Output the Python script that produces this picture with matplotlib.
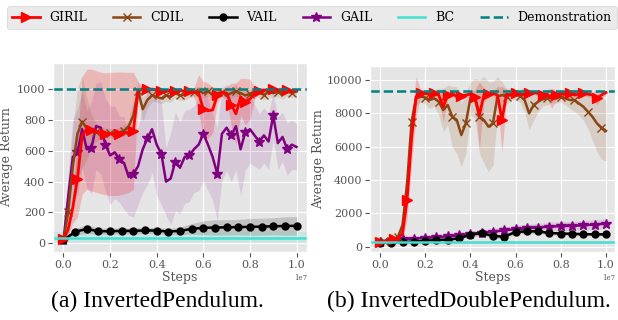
import numpy as np
import matplotlib
matplotlib.use('Agg')
import matplotlib.pyplot as plt

plt.style.use('ggplot')
plt.rcParams['font.family'] = 'DejaVu Serif'

# ---- data: InvertedPendulum ----
steps = np.linspace(0, 1e7, 51)
steps_coarse = np.linspace(0, 1e7, 21)

pend_giril = [25, 90, 230, 420, 700, 740, 735, 725, 715, 710, 710, 710, 712, 715, 720, 730,
              990, 1000, 998, 1000, 995, 990, 985, 995, 990, 995, 985, 990, 980, 975,
              870, 860, 865, 960, 980, 975, 900, 840, 950, 920, 935, 975, 990, 995, 990,
              1000, 995, 990, 995, 985, 990]
pend_giril_std = [5, 40, 100, 250, 380, 390, 395, 395, 395, 395, 400, 400, 400, 395, 390, 380,
                  60, 15, 10, 10, 10, 12, 15, 10, 12, 10, 15, 12, 30, 120,
                  180, 180, 150, 50, 20, 40, 140, 200, 120, 150, 130, 40, 15, 10, 10,
                  5, 10, 10, 10, 12, 10]
pend_cdil = [20, 200, 500, 710, 790, 745, 730, 720, 720, 715, 715, 715, 720, 730, 760, 830,
             990, 870, 930, 960, 950, 940, 960, 950, 975, 960, 965, 975, 980, 990,
             975, 985, 965, 975, 980, 960, 975, 985, 975, 960, 970, 985, 975, 965, 980,
             975, 980, 970, 985, 975, 985]
pend_cdil_std = [5, 150, 250, 300, 300, 200, 100, 60, 40, 30, 30, 30, 30, 35, 40, 100,
                 60, 80, 50, 40, 35, 35, 40, 35, 30, 35, 35, 30, 30, 30,
                 35, 30, 35, 30, 30, 35, 30, 30, 35, 35, 30, 30, 30, 35, 30,
                 30, 30, 35, 30, 30, 30]
pend_gail = [20, 300, 560, 590, 740, 610, 620, 760, 750, 640, 570, 590, 545, 520, 430, 450,
             500, 610, 680, 740, 640, 580, 400, 420, 530, 490, 560, 570, 610, 640,
             710, 640, 560, 450, 710, 750, 700, 760, 610, 720, 740, 700, 660, 700, 660,
             830, 650, 690, 610, 640, 625]
pend_gail_std = [5, 150, 250, 280, 250, 250, 300, 280, 300, 300, 320, 300, 280, 300, 250, 280,
                 250, 280, 300, 280, 330, 330, 220, 300, 320, 300, 300, 300, 280, 300,
                 300, 300, 280, 300, 300, 280, 300, 280, 300, 250, 220, 200, 180, 180, 180,
                 150, 170, 160, 170, 160, 150]
pend_vail = [20, 75, 92, 78, 78, 80, 80, 83, 82, 76, 80, 93, 100, 102, 103, 105, 106, 108, 110, 112, 113]
pend_vail_std = [5, 20, 30, 20, 20, 20, 20, 20, 20, 20, 25, 35, 45, 50, 50, 50, 55, 55, 55, 60, 60]
pend_bc, pend_bc_std = 35, 35
pend_demo = 1000

# ---- data: InvertedDoublePendulum ----
dbl_giril = [300, 330, 400, 450, 520, 800, 2800, 6500, 9000, 9200, 9200, 9150, 9200, 9100, 8400, 9100,
             9200, 9000, 9050, 9100, 9150, 9000, 7900, 9100, 9150, 9200, 9100, 7600, 9150, 9100,
             9200, 9150, 9100, 9200, 9250, 9200, 9100, 9150, 8900, 9100, 9200, 9150, 9200, 9100, 9150,
             9200, 9150, 9100, 8900, 9100, 9250]
dbl_giril_std = [80, 80, 100, 100, 150, 400, 1200, 1500, 1200, 200, 150, 150, 150, 300, 900, 250,
                 150, 200, 200, 150, 200, 400, 2000, 400, 200, 150, 500, 2000, 300, 200,
                 150, 150, 150, 150, 100, 150, 200, 300, 600, 300, 200, 200, 150, 200, 150,
                 150, 150, 200, 400, 200, 150]
dbl_cdil = [300, 320, 380, 420, 600, 1300, 3800, 7500, 8900, 9000, 8950, 8800, 8900, 8700, 8200, 8500,
            7800, 7600, 6700, 7400, 8900, 8900, 7800, 7600, 7200, 7400, 9000, 9100, 9000, 9150,
            9100, 9050, 8800, 8000, 8500, 8700, 8850, 8900, 8950, 8900, 9000, 8900, 8800, 8800, 8600,
            8400, 8100, 7800, 7400, 7150, 6950]
dbl_cdil_std = [50, 50, 80, 100, 200, 500, 1000, 800, 400, 300, 400, 500, 500, 800, 1300, 1200,
                1800, 2000, 1900, 1800, 1000, 1200, 2200, 2600, 2700, 2500, 1200, 800, 500, 300,
                300, 400, 700, 1000, 900, 600, 400, 400, 300, 300, 300, 400, 500, 700, 700,
                800, 1000, 1400, 1700, 1900, 1800]
dbl_gail = [300, 380, 450, 480, 520, 570, 620, 680, 750, 830, 900, 980, 1050, 1100, 1150, 1200,
            1230, 1250, 1280, 1330, 1380]
dbl_gail_std = [50, 60, 80, 100, 120, 130, 150, 160, 170, 180, 200, 210, 230, 240, 250, 260,
                270, 270, 280, 290, 300]
dbl_vail = [250, 250, 280, 300, 350, 400, 430, 500, 720, 820, 640, 600, 880, 920, 920, 820,
            790, 770, 750, 740, 740]
dbl_vail_std = [50, 50, 60, 60, 70, 80, 80, 90, 100, 120, 120, 110, 120, 120, 110, 100,
                100, 90, 90, 90, 90]
dbl_bc, dbl_bc_std = 260, 40
dbl_demo = 9370


def band(ax, x, m, s, color, alpha):
    m = np.asarray(m, float)
    s = np.asarray(s, float)
    ax.fill_between(x, m - s, m + s, color=color, alpha=alpha, lw=0)


def draw(ax, giril, giril_std, cdil, cdil_std, gail, gail_std, gail_x, gail_every,
         vail, vail_std, bc, bc_std, demo, ylab_x):
    band(ax, steps, giril, giril_std, 'red', 0.2)
    band(ax, steps, cdil, cdil_std, 'saddlebrown', 0.15)
    band(ax, gail_x, gail, gail_std, 'purple', 0.12)
    band(ax, steps_coarse, vail, vail_std, 'black', 0.15)
    ax.axhspan(bc - bc_std, bc + bc_std, color='turquoise', alpha=0.15, lw=0)

    ax.plot(gail_x, gail, color='purple', lw=1.8, marker='*', ms=7, markevery=gail_every, label='GAIL')
    ax.plot(steps_coarse, vail, color='black', lw=1.8, marker='o', ms=5, label='VAIL')
    ax.plot(steps, cdil, color='saddlebrown', lw=1.8, marker='x', ms=6,
            markevery=slice(1, None, 3), label='CDIL')
    ax.plot(steps, giril, color='red', lw=2, marker='>', ms=7, markevery=3, label='GIRIL')
    ax.axhline(bc, color='turquoise', lw=1.8, label='BC')
    ax.axhline(demo, color='teal', lw=1.8, ls='--', label='Demonstration')

    ax.set_xlabel('Steps', fontsize=9, labelpad=1)
    ax.set_ylabel('Average Return', fontsize=9)
    ax.yaxis.set_label_coords(ylab_x, 0.5)
    ax.tick_params(labelsize=8, pad=2)
    ax.xaxis.get_offset_text().set_fontsize(5)
    ax.set_xticks(np.arange(0, 1.01e7, 0.2e7))


fig = plt.figure(figsize=(6.18, 3.2), dpi=100)
ax1 = fig.add_axes([53 / 618, 68 / 320, 254 / 618, 189 / 320])
ax2 = fig.add_axes([370 / 618, 68 / 320, 245 / 618, 186 / 320])

draw(ax1, pend_giril, pend_giril_std, pend_cdil, pend_cdil_std, pend_gail, pend_gail_std,
     steps, 3, pend_vail, pend_vail_std, pend_bc, pend_bc_std, pend_demo, -0.157)
ax1.set_xlim(-0.045e7, 1.045e7)
ax1.set_ylim(-57, 1170)
ax1.set_yticks(np.arange(0, 1001, 200))

draw(ax2, dbl_giril, dbl_giril_std, dbl_cdil, dbl_cdil_std, dbl_gail, dbl_gail_std,
     steps_coarse, 1, dbl_vail, dbl_vail_std, dbl_bc, dbl_bc_std, dbl_demo, -0.184)
ax2.set_xlim(-0.044e7, 1.04e7)
ax2.set_ylim(-320, 10840)
ax2.set_yticks(np.arange(0, 10001, 2000))

handles, labels = ax1.get_legend_handles_labels()
order = ['GIRIL', 'CDIL', 'VAIL', 'GAIL', 'BC', 'Demonstration']
h = [handles[labels.index(n)] for n in order]
fig.legend(h, order, loc='upper left', bbox_to_anchor=(7 / 618, 1 - 6 / 320), ncol=6,
           fontsize=9, columnspacing=2.05, handlelength=2.2, frameon=True, borderaxespad=0)

fig.text(157 / 618, 19 / 320, '(a) InvertedPendulum.', ha='center', va='center',
         fontsize=17, family='Liberation Serif')
fig.text(469 / 618, 19 / 320, '(b) InvertedDoublePendulum.', ha='center', va='center',
         fontsize=17, family='Liberation Serif')

fig.savefig('out.png', dpi=100)
